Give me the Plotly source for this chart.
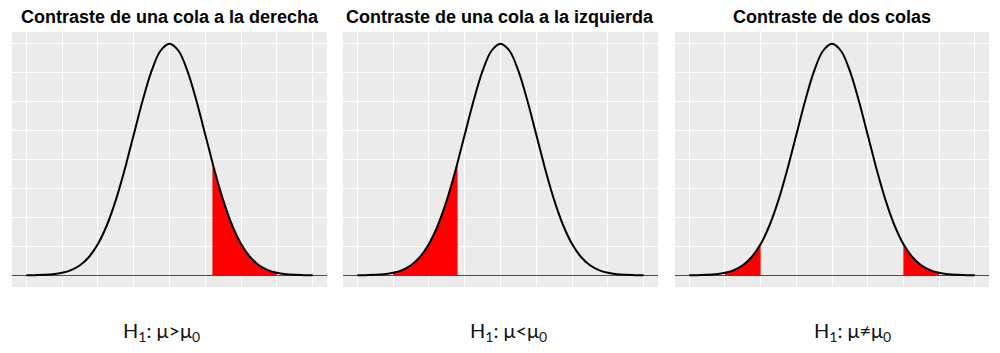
import plotly.graph_objects as go

# Standard normal density
x_vals = [-4.0, -3.75, -3.5, -3.25, -3.0, -2.75, -2.5, -2.25, -2.0, -1.75, -1.5, -1.25, -1.2,
          -1.0, -0.75, -0.5, -0.25, 0.0, 0.25, 0.5, 0.75, 1.0, 1.2, 1.25, 1.5, 1.75, 2.0,
          2.25, 2.5, 2.75, 3.0, 3.25, 3.5, 3.75, 4.0]
density = [0.0001, 0.0004, 0.0009, 0.0020, 0.0044, 0.0091, 0.0175, 0.0317, 0.0540, 0.0863,
           0.1295, 0.1826, 0.1942, 0.2420, 0.3011, 0.3521, 0.3867, 0.3989, 0.3867, 0.3521,
           0.3011, 0.2420, 0.1942, 0.1826, 0.1295, 0.0863, 0.0540, 0.0317, 0.0175, 0.0091,
           0.0044, 0.0020, 0.0009, 0.0004, 0.0001]

titles = ["Contraste de una cola a la derecha",
          "Contraste de una cola a la izquierda",
          "Contraste de dos colas"]
# shaded rejection regions (from, to) per panel
regions = [[(1.2, 3.0)], [(-3.0, -1.2)], [(-3.0, -2.0), (2.0, 3.0)]]
labels = ["H<sub>1</sub>: μ>μ<sub>0</sub>",
          "H<sub>1</sub>: μ<μ<sub>0</sub>",
          "H<sub>1</sub>: μ≠μ<sub>0</sub>"]
label_x = [161, 508, 852]

x_domains = [(12, 327), (343, 658), (675, 989)]
W, H = 1000, 353
y_dom = (1 - 287 / H, 1 - 32 / H)

fig = go.Figure()
layout = dict(width=W, height=H, margin=dict(l=0, r=0, t=0, b=0),
              paper_bgcolor="white", plot_bgcolor="#EBEBEB", showlegend=False)
annotations = []
for i in range(3):
    xa = "x" if i == 0 else f"x{i+1}"
    ya = "y" if i == 0 else f"y{i+1}"
    for lo, hi in regions[i]:
        sx = [x for x in x_vals if lo - 1e-9 <= x <= hi + 1e-9]
        sy = [d for x, d in zip(x_vals, density) if lo - 1e-9 <= x <= hi + 1e-9]
        fig.add_trace(go.Scatter(x=sx, y=sy, mode="lines", line=dict(width=0, shape="spline"),
                                 fill="tozeroy", fillcolor="#FF0000", xaxis=xa, yaxis=ya,
                                 hoverinfo="skip"))
    fig.add_trace(go.Scatter(x=x_vals, y=density, mode="lines",
                             line=dict(color="black", width=2, shape="spline"),
                             xaxis=xa, yaxis=ya, hoverinfo="skip"))
    d0, d1 = x_domains[i]
    key_x = "xaxis" if i == 0 else f"xaxis{i+1}"
    key_y = "yaxis" if i == 0 else f"yaxis{i+1}"
    layout[key_x] = dict(domain=[d0 / W, d1 / W], range=[-4.4, 4.4], anchor=ya,
                         showticklabels=False, ticks="", showgrid=True, gridcolor="white",
                         gridwidth=1.3, tick0=0, dtick=1, zeroline=False, showline=False)
    layout[key_y] = dict(domain=list(y_dom), range=[-0.02, 0.419], anchor=xa,
                         showticklabels=False, ticks="", showgrid=True, gridcolor="white",
                         gridwidth=1.3, tick0=0, dtick=0.05, zeroline=True,
                         zerolinecolor="#4d4d4d", zerolinewidth=1.3, showline=False)
    annotations.append(dict(text="<b>" + titles[i] + "</b>", xref="paper", yref="paper",
                            x=(d0 + d1) / 2 / W, y=1 - 17 / H, xanchor="center", yanchor="middle",
                            showarrow=False,
                            font=dict(family="Liberation Sans, Arial", size=18, color="black")))
    annotations.append(dict(text=labels[i], xref="paper", yref="paper",
                            x=label_x[i] / W, y=1 - 331 / H, xanchor="center", yanchor="middle",
                            showarrow=False,
                            font=dict(family="Lato, Open Sans", size=20, color="#111111")))
layout["annotations"] = annotations
fig.update_layout(**layout)
fig.write_html("out.html")
